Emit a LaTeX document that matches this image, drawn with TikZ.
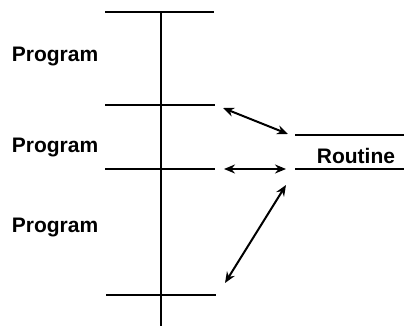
\documentclass[tikz,border=0pt]{standalone}
\usepackage{fontspec}
\setmainfont{Liberation Sans}
\usetikzlibrary{arrows.meta}

\tikzset{
  lbl/.style={font=\fontsize{21}{24}\selectfont\bfseries, inner sep=0pt, anchor=base west},
  link/.style={{Stealth[length=11pt,width=9pt]}-{Stealth[length=11pt,width=9pt]}, line width=2pt},
}

\begin{document}
\begin{tikzpicture}[x=1pt, y=-1pt, line width=1.8pt]

  \useasboundingbox (0,0) rectangle (404,326);

  % program column
  \coordinate (top) at (161,12);
  \coordinate (bot) at (161,326);
  \draw (top) -- (bot);
  \draw (105,12)  -- (214,12);
  \draw (105,105) -- (215,105);
  \draw (105,169) -- (215,169);
  \draw (106,295) -- (216,295);

  \node[lbl] (progA) at (11,62)  {Program};
  \node[lbl] (progB) at (11,152) {Program};
  \node[lbl] (progC) at (11,232) {Program};

  % routine
  \draw (295,135) -- (404,135);
  \draw (295,169) -- (404,169);
  \node[lbl] (rout) at (316,163) {Routine};

  % calls
  \coordinate (callA) at (223,108);
  \coordinate (retA)  at (288,134);
  \coordinate (callB) at (224,169);
  \coordinate (retB)  at (286,169);
  \coordinate (callC) at (225,283);
  \coordinate (retC)  at (286,185);
  \draw[link] (callA) -- (retA);
  \draw[link] (callB) -- (retB);
  \draw[link] (callC) -- (retC);

\end{tikzpicture}
\end{document}
